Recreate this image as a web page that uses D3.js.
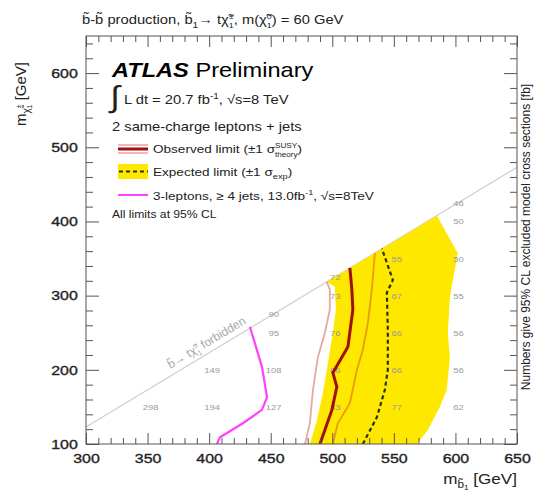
<!DOCTYPE html>
<html><head><meta charset="utf-8">
<script src="https://cdn.jsdelivr.net/npm/d3@7"></script>
<style>body{margin:0;background:#fff;} svg{display:block;font-family:"Liberation Sans",Arial,Helvetica,sans-serif;}</style>
</head><body><svg id="c" width="535" height="492"></svg>
<script>
// ---------- data ----------
const xMajorTicks = [300,350,400,450,500,550,600,650];
const yMajorTicks = [100,200,300,400,500,600];
const topMass = 177; // kinematic boundary m(b1) = m(t) + m(chi)
// expected +-1 sigma band (m_b1, m_chi)
const expBandLeft  = [[481.8,100],[487.5,132],[492.4,169],[496.4,209],[500.5,250],[502.9,281],[502.1,312],[495.6,318.6]];
const expBandRight = [[584.9,407.9],[601.9,357],[595.5,298],[593.8,250],[595.5,217],[593,173],[587.3,150],[577.6,119],[568.7,100]];
const expectedLimit = [[524.8,100],[536.2,136],[542.7,173],[545.1,200],[545.1,254],[544.3,304],[549.2,321],[540.3,363.3]];
const observedLimit = [[490,100],[499.7,146],[503.7,177],[500.5,196],[512.7,231],[516.7,281],[515.9,308],[514.3,337.3]];
const observedMinus = [[477.8,100],[481.8,128],[484.3,173],[488.3,217],[494,250],[498,281],[498,308],[495.6,318.6]];
const observedPlus  = [[500.5,100],[504.5,128],[514.3,155],[520,200],[524.8,227],[528.9,263],[532.1,308],[534.6,357.6]];
const threeLepton   = [[406.3,100],[408.8,109],[427.4,128],[442.9,146],[447,163],[442.9,204],[433.1,258]];
// excluded cross sections [fb] at grid points
const gridMb   = [350,400,400,450,450,450,450,500,500,500,500,500,550,550,550,550,550,600,600,600,600,600,600,600];
const gridMchi = [150,150,200,150,200,250,275,150,200,250,300,325,150,200,250,300,350,150,200,250,300,350,400,425];
const gridXsec = ["298","194","149","127","108","95","90","83","86","76","73","72","77","66","66","67","55","62","56","56","55","50","50","46"];

// ---------- setup ----------
const W = 535, H = 492, SX = 1.18;
const svg = d3.select("#c");
const x = d3.scaleLinear().domain([300,650]).range([86,517]);
const y = d3.scaleLinear().domain([100,650]).range([444,36]);

svg.append("defs").append("clipPath").attr("id","clip")
  .append("rect").attr("x",86).attr("y",36).attr("width",431).attr("height",408);

function rich(t, parts, fs){
  let cur = 0;
  parts.forEach(p=>{
    const [s,type,s2] = p;
    if(type==="sub"||type==="sup"){
      const off = type==="sub" ? 0.3*fs : -0.4*fs;
      t.append("tspan").attr("dy",off-cur).attr("font-size",fs*0.68).text(s);
      cur = off;
    } else if(type==="supsub"){
      const off1 = -0.42*fs, off2 = 0.32*fs;
      const a = t.append("tspan").attr("dy",off1-cur).attr("font-size",fs*0.6).text(s);
      const w1 = a.node().getComputedTextLength();
      const b = t.append("tspan").attr("dx",-w1).attr("dy",off2-off1).attr("font-size",fs*0.6).text(s2);
      const w2 = b.node().getComputedTextLength();
      cur = off2;
      if(w1>w2) t.append("tspan").attr("dx",w1-w2).text("");
    } else {
      t.append("tspan").attr("dy",-cur).text(s);
      cur = 0;
    }
  });
  return t;
}
function label(px,py,size,anchor,parent){
  const g = (parent||svg).append("g").attr("transform",`translate(${px},${py}) scale(${SX},1)`);
  return g.append("text").attr("font-size",size).attr("text-anchor",anchor||"start").attr("fill","#222");
}

// ---------- plot contents ----------
const plot = svg.append("g").attr("clip-path","url(#clip)");
const line = d3.line().x(d=>x(d[0])).y(d=>y(d[1]));

// kinematic boundary
plot.append("line")
  .attr("x1",x(300)).attr("y1",y(300-topMass))
  .attr("x2",x(650)).attr("y2",y(650-topMass))
  .attr("stroke","#d0d0d0").attr("stroke-width",1.2);

// expected band
plot.append("path").datum(expBandLeft.concat(expBandRight))
  .attr("d", d=>line(d)+"Z").attr("fill","#ffe800").attr("stroke","none");

// grid numbers
gridXsec.forEach((v,i)=>{
  const g = plot.append("g").attr("transform",`translate(${x(gridMb[i])+3},${y(gridMchi[i])+3}) scale(${SX},1)`);
  g.append("text").attr("font-size",8).attr("text-anchor","middle").attr("fill","#9a9a9a").text(v);
});

// observed +-1 sigma theory
[observedMinus, observedPlus].forEach(d=>{
  plot.append("path").datum(d).attr("d",line).attr("fill","none")
    .attr("stroke","#c83020").attr("stroke-opacity",0.42).attr("stroke-width",1.8);
});
// expected limit
plot.append("path").datum(expectedLimit).attr("d",line).attr("fill","none")
  .attr("stroke","#2a3010").attr("stroke-width",2.2).attr("stroke-dasharray","4,3");
// observed limit
plot.append("path").datum(observedLimit).attr("d",line).attr("fill","none")
  .attr("stroke","#a01010").attr("stroke-width",3);
// 3-lepton limit
plot.append("path").datum(threeLepton).attr("d",line).attr("fill","none")
  .attr("stroke","#ff40ff").attr("stroke-width",2.2);

// forbidden label
{
  const ang = Math.atan2(y(600-topMass)-y(500-topMass), x(600)-x(500))*180/Math.PI;
  const g = svg.append("g").attr("transform",`translate(${x(402)},${y(402-topMass)}) rotate(${ang})`);
  const t = g.append("text").attr("y",-6).attr("font-size",12).attr("text-anchor","middle").attr("fill","#a8a8a8");
  rich(t, [["b\u0303\u2192 t\u03C7\u0303",""],["\u00B1","supsub","1"],[" forbidden",""]], 12);
}

// ---------- axes ----------
const xMinor = d3.range(300,651,10).filter(v=>v%50!==0);
const yMinor = d3.range(100,651,20).filter(v=>v%100!==0);
const axCol = "#555";
function styleAxis(g){ g.select(".domain").remove(); g.selectAll("line").attr("stroke",axCol); }
function styleLabels(g){
  g.selectAll("text").attr("font-size",13.5).attr("fill","#222").attr("stroke","#222").attr("stroke-width",0.35)
   .attr("transform",`scale(${SX},1)`).style("font-family","inherit");
}

svg.append("g").attr("transform",`translate(0,444)`)
  .call(d3.axisBottom(x).tickValues(xMajorTicks).tickSizeInner(-11).tickSizeOuter(0).tickPadding(9).tickFormat(d3.format("d")))
  .call(styleAxis).call(styleLabels);
svg.append("g").attr("transform",`translate(0,444)`)
  .call(d3.axisBottom(x).tickValues(xMinor).tickSizeInner(-6).tickSizeOuter(0).tickFormat(""))
  .call(styleAxis);
svg.append("g").attr("transform",`translate(0,36)`)
  .call(d3.axisTop(x).tickValues(xMajorTicks).tickSizeInner(-11).tickSizeOuter(0).tickFormat(""))
  .call(styleAxis);
svg.append("g").attr("transform",`translate(0,36)`)
  .call(d3.axisTop(x).tickValues(xMinor).tickSizeInner(-6).tickSizeOuter(0).tickFormat(""))
  .call(styleAxis);
svg.append("g").attr("transform",`translate(86,0)`)
  .call(d3.axisLeft(y).tickValues(yMajorTicks).tickSizeInner(-13).tickSizeOuter(0).tickPadding(7).tickFormat(d3.format("d")))
  .call(styleAxis).call(styleLabels);
svg.append("g").attr("transform",`translate(86,0)`)
  .call(d3.axisLeft(y).tickValues(yMinor).tickSizeInner(-7).tickSizeOuter(0).tickFormat(""))
  .call(styleAxis);
svg.append("g").attr("transform",`translate(517,0)`)
  .call(d3.axisRight(y).tickValues(yMajorTicks).tickSizeInner(-13).tickSizeOuter(0).tickFormat(""))
  .call(styleAxis);
svg.append("g").attr("transform",`translate(517,0)`)
  .call(d3.axisRight(y).tickValues(yMinor).tickSizeInner(-7).tickSizeOuter(0).tickFormat(""))
  .call(styleAxis);
svg.append("rect").attr("x",86).attr("y",36).attr("width",431).attr("height",408)
  .attr("fill","none").attr("stroke",axCol).attr("stroke-width",1);

// axis titles
{
  const t = label(517,484,14.5,"end");
  t.append("tspan").text("m");
  t.append("tspan").attr("dy",4).attr("font-size",10).text("b\u0303");
  t.append("tspan").attr("dy",2).attr("font-size",7).text("1");
  t.append("tspan").attr("dy",-6).text(" [GeV]");
}
{
  const g = svg.append("g").attr("transform","translate(26,62) rotate(-90)");
  const t = g.append("text").attr("font-size",15).attr("text-anchor","end").attr("fill","#222");
  t.append("tspan").text("m");
  t.append("tspan").attr("dy",4).attr("font-size",10).text("\u03C7\u0303");
  t.append("tspan").attr("dy",-9).attr("font-size",7).text("\u00B1");
  t.append("tspan").attr("dx",-4).attr("dy",11).attr("font-size",7).text("1");
  t.append("tspan").attr("dy",-6).text(" [GeV]");
}
{
  const g = svg.append("g").attr("transform","translate(530,237) rotate(-90)");
  g.append("text").attr("font-size",12).attr("text-anchor","middle").attr("fill","#222")
    .text("Numbers give 95% CL excluded model cross sections [fb]");
}

// title
rich(label(82,24,12.5), [["b\u0303-b\u0303 production, b\u0303",""],["1","sub"],["\u2192 t\u03C7\u0303",""],["\u00B1","supsub","1"],[", m(\u03C7\u0303",""],["0","supsub","1"],[") = 60 GeV",""]], 12.5);

// ---------- legend ----------
{
  const t = label(112,77,20);
  t.append("tspan").attr("font-weight","bold").attr("font-style","italic").attr("fill","#000").text("ATLAS");
  t.append("tspan").attr("fill","#000").text(" Preliminary");
}
label(110,107,30).text("\u222B");
rich(label(124,104,12.5), [["L dt = 20.7 fb",""],["-1","sup"],[", \u221As=8 TeV",""]], 12.5);
label(112,131,12.5).text("2 same-charge leptons + jets");

// observed symbol
svg.append("line").attr("x1",118).attr("x2",148).attr("y1",145).attr("y2",145).attr("stroke","#e8a0a0").attr("stroke-width",1.5);
svg.append("line").attr("x1",118).attr("x2",148).attr("y1",153).attr("y2",153).attr("stroke","#e8a0a0").attr("stroke-width",1.5);
svg.append("line").attr("x1",118).attr("x2",148).attr("y1",149).attr("y2",149).attr("stroke","#a01010").attr("stroke-width",3);
rich(label(153,153,11.5), [["Observed limit (\u00B11 \u03C3",""],["SUSY","supsub","theory"],[")",""]], 11.5);
// expected symbol
svg.append("rect").attr("x",118).attr("y",164).attr("width",30).attr("height",15).attr("fill","#ffe800");
svg.append("line").attr("x1",119).attr("x2",148).attr("y1",171.5).attr("y2",171.5).attr("stroke","#2a3010").attr("stroke-width",2).attr("stroke-dasharray","4,3");
rich(label(153,176,11.5), [["Expected limit (\u00B11 \u03C3",""],["exp","sub"],[")",""]], 11.5);
// 3-lepton symbol
svg.append("line").attr("x1",118).attr("x2",148).attr("y1",195).attr("y2",195).attr("stroke","#ff40ff").attr("stroke-width",2);
rich(label(153,200,11.5), [["3-leptons, \u2265 4 jets, 13.0fb",""],["-1","sup"],[", \u221As=8TeV",""]], 11.5);
label(112,218,10.3).text("All limits at 95% CL");
</script></body></html>
